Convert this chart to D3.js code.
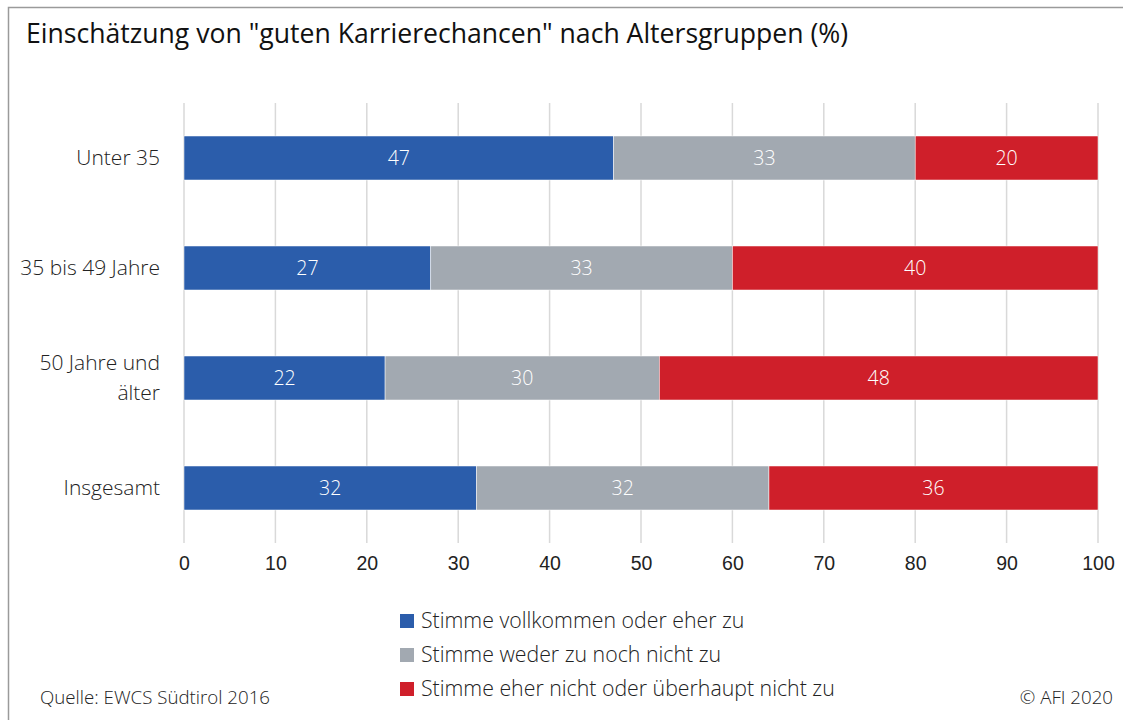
<!DOCTYPE html>
<html>
<head>
<meta charset="utf-8">
<script src="https://cdn.jsdelivr.net/npm/d3@7"></script>
<style>
  body { margin: 0; background: #fff; }
  svg { font-family: "Open Sans", "Noto Sans", sans-serif; }
</style>
</head>
<body>
<svg id="chart" width="1123" height="720"></svg>
<script>
// data
const groups = ['Unter 35', '35 bis 49 Jahre', '50 Jahre und älter', 'Insgesamt'];
const groupLines = [['Unter 35'], ['35 bis 49 Jahre'], ['50 Jahre und', 'älter'], ['Insgesamt']];
const seriesNames = [
  'Stimme vollkommen oder eher zu',
  'Stimme weder zu noch nicht zu',
  'Stimme eher nicht oder überhaupt nicht zu',
];
const zustimmung = [47, 27, 22, 32];
const neutral = [33, 33, 30, 32];
const ablehnung = [20, 40, 48, 36];
const xTicks = [0, 10, 20, 30, 40, 50, 60, 70, 80, 90, 100];
const colors = ['#2b5dab', '#a2a9b1', '#cf1f2a'];

const svg = d3.select('#chart');

// frame
svg.append('path')
  .attr('d', 'M8.5,720 L8.5,7.5 L1123,7.5')
  .attr('fill', 'none')
  .attr('stroke', '#9a9a9a')
  .attr('stroke-width', 1.5);

// title
svg.append('text')
  .attr('x', 26)
  .attr('y', 43)
  .attr('font-size', 26.6)
  .attr('fill', '#111')
  .text('Einschätzung von "guten Karrierechancen" nach Altersgruppen (%)');

const x = d3.scaleLinear().domain([0, 100]).range([184, 1098]);
const y = d3.scaleBand().domain(groups).range([103, 543]).paddingInner(0.6).paddingOuter(0.3);

// gridlines
svg.append('g')
  .selectAll('line')
  .data(xTicks)
  .join('line')
  .attr('x1', (d) => x(d))
  .attr('x2', (d) => x(d))
  .attr('y1', 103)
  .attr('y2', 543)
  .attr('stroke', '#d9d9d9')
  .attr('stroke-width', 1.5);

// x axis labels
const xAxis = svg.append('g')
  .attr('transform', 'translate(0,543)')
  .call(d3.axisBottom(x).tickValues(xTicks).tickSize(0).tickPadding(13));
xAxis.select('.domain').remove();
xAxis.selectAll('text')
  .attr('font-size', 19.5)
  .attr('font-weight', 300)
  .attr('fill', '#222')
  .attr('font-family', null);

// stacked data
const rows = groups.map((g, i) => ({
  group: g,
  [seriesNames[0]]: zustimmung[i],
  [seriesNames[1]]: neutral[i],
  [seriesNames[2]]: ablehnung[i],
}));
const stacked = d3.stack().keys(seriesNames)(rows);

const layers = svg.append('g')
  .selectAll('g')
  .data(stacked)
  .join('g')
  .attr('fill', (d, i) => colors[i]);

layers.selectAll('rect')
  .data((d) => d)
  .join('rect')
  .attr('x', (d) => x(d[0]))
  .attr('y', (d) => y(d.data.group))
  .attr('width', (d) => x(d[1]) - x(d[0]))
  .attr('height', y.bandwidth())
  .attr('stroke', '#fff')
  .attr('stroke-width', 0.5);

layers.selectAll('text')
  .data((d) => d)
  .join('text')
  .attr('x', (d) => (x(d[0]) + x(d[1])) / 2)
  .attr('y', (d) => y(d.data.group) + y.bandwidth() / 2)
  .attr('dy', '0.35em')
  .attr('text-anchor', 'middle')
  .attr('font-size', 19.5)
  .attr('font-weight', 300)
  .attr('fill', '#fff')
  .text((d) => d[1] - d[0]);

// y labels
const yLabels = svg.append('g')
  .selectAll('text')
  .data(groups)
  .join('text')
  .attr('x', 160)
  .attr('text-anchor', 'end')
  .attr('font-size', 21)
  .attr('font-weight', 300)
  .attr('fill', '#222');

yLabels.each(function (g, i) {
  const lines = groupLines[i];
  const cy = y(g) + y.bandwidth() / 2;
  const lh = 30;
  lines.forEach((l, j) => {
    d3.select(this).append('tspan')
      .attr('x', 160)
      .attr('y', cy + (j - (lines.length - 1) / 2) * lh)
      .attr('dy', '0.35em')
      .text(l);
  });
});

// legend
const legend = svg.append('g')
  .selectAll('g')
  .data(seriesNames)
  .join('g')
  .attr('transform', (d, i) => `translate(400,${621 + i * 34})`);

legend.append('rect')
  .attr('x', 0)
  .attr('y', -7)
  .attr('width', 14)
  .attr('height', 14)
  .attr('fill', (d, i) => colors[i]);

legend.append('text')
  .attr('x', 21)
  .attr('dy', '0.35em')
  .attr('font-size', 21.3)
  .attr('font-weight', 300)
  .attr('fill', '#222')
  .text((d) => d);

// footer
svg.append('text')
  .attr('x', 40)
  .attr('y', 704)
  .attr('font-size', 18.7)
  .attr('font-weight', 300)
  .attr('fill', '#222')
  .text('Quelle: EWCS Südtirol 2016');

svg.append('text')
  .attr('x', 1113)
  .attr('y', 704)
  .attr('text-anchor', 'end')
  .attr('font-size', 18.7)
  .attr('font-weight', 300)
  .attr('fill', '#222')
  .text('© AFI 2020');
</script>
</body>
</html>
